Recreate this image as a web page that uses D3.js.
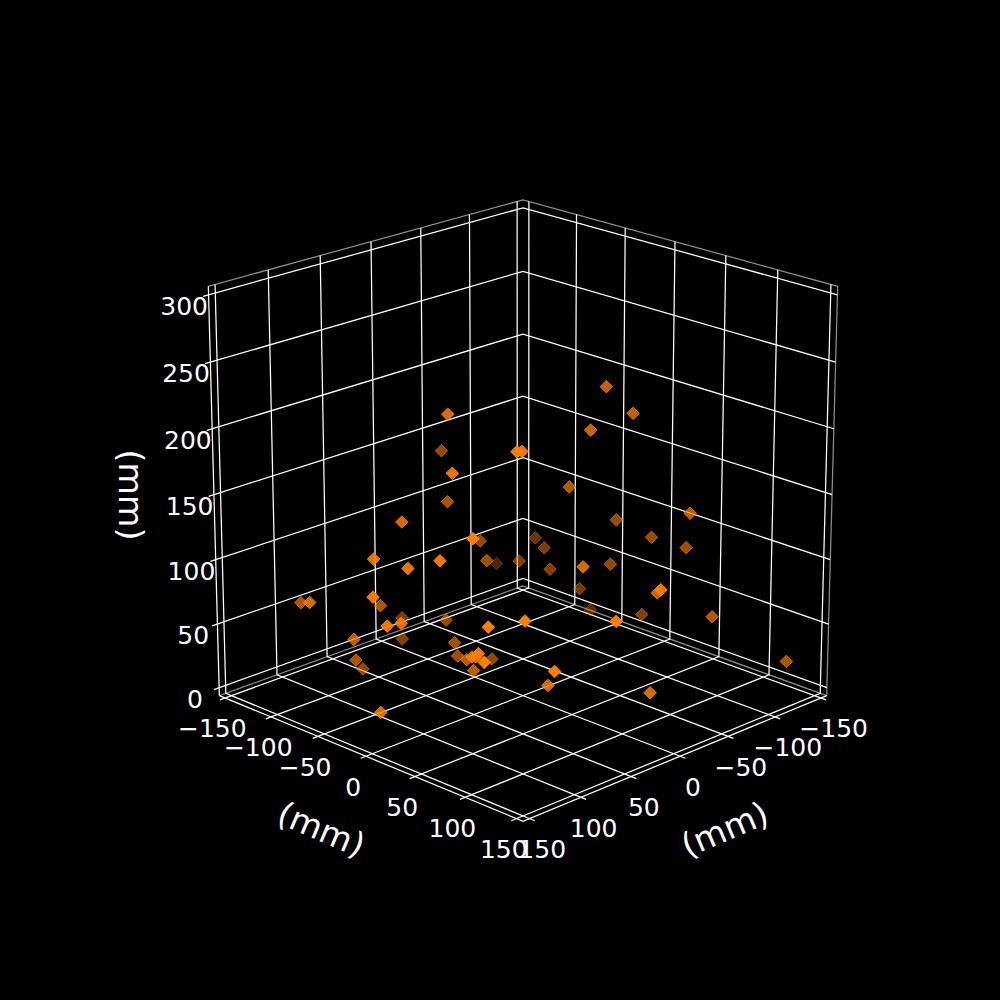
<!DOCTYPE html>
<html>
<head>
<meta charset="utf-8">
<script src="https://d3js.org/d3.v7.min.js"></script>
<style>html,body{margin:0;background:#000}</style>
</head>
<body>
<svg id="chart" width="1000" height="1000"></svg>
<script>
const xyTicks = [-150, -100, -50, 0, 50, 100, 150]
const zTicks = [0, 50, 100, 150, 200, 250, 300]
const axisLabel = '(mm)'

// point positions in mm
const xs = [52,-3,72,22,89,125,110,100,92,-7,5,-71,-35,48,41,-54,-63,-34,-33,-76,-82,
    -91,-99,-72,-58,-50,6,-70,-74,-100,-4,-39,-89,-83,-118,23,80,99,74,44,-6,119,
    150,139,79,24,118,137,39,25,110,101,76,36,37,56,77,87,97,107,8,55,132]
const ys = [-23,-87,2,-55,-32,-23,-4,18,43,-51,-32,-99,-39,42,40,30,48,34,14,20,87,
    41,68,-59,-36,-22,66,20,-15,-29,132,96,34,109,150,115,82,65,105,69,121,-107,
    -63,-9,-66,-102,-3,3,-86,-54,-61,-69,-89,-34,-30,-1,26,40,53,69,-24,5,-10]
const zs = [218,161,185,136,144,128,122,131,152,99,92,51,79,205,203,226,208,199,151,116,137,
    104,101,82,84,73,114,83,53,25,112,90,42,63,30,91,98,94,65,35,30,70,
    91,107,68,33,83,88,25,45,52,31,11,36,27,38,54,61,70,71,18,31,17]

const elev = 20 * Math.PI / 180, se = Math.sin(elev), ce = Math.cos(elev), r = Math.SQRT1_2
const dist = 20, cx = 523, cy = 494.6, sx = 209.8, sy = 209

const sXY = d3.scaleLinear().domain([-150, 150]).range([-1, 1])
const sZ = d3.scaleLinear().domain([0, 300]).range([-1, 1])

// view from azim 45, returns screen x, screen y and depth
function project(x, y, z) {
    const X = sXY(x), Y = sXY(y), Z = sZ(z)
    const S = (X + Y) * r, U = (Y - X) * r
    const D = ce * S + se * Z, V = -se * S + ce * Z
    const f = 1 - D / dist
    return [cx + sx * U / f, cy - sy * V / f, D]
}

const svg = d3.select('#chart')
const lo = -156.25, hi = 156.25, zlo = -6.25, zhi = 306.25, ext = 161.25
const line = pts => 'M' + pts.map(p => project(...p).slice(0, 2).join(',')).join('L')
const path = (pts, col) => svg.append('path').attr('d', line(pts))
    .attr('fill', 'none').attr('stroke', col).attr('stroke-width', 1.25)

path([[hi,lo,zhi],[lo,lo,zhi],[lo,hi,zhi],[lo,hi,zlo],[lo,lo,zlo],[hi,lo,zlo]], '#8c8c8c')
path([[hi,lo,zlo],[hi,lo,zhi]], '#fff')
path([[hi,lo,zlo],[hi,hi,zlo],[lo,hi,zlo]], '#fff')
xyTicks.forEach(t => {
    path([[t,ext,zlo],[t,lo,zlo],[t,lo,zhi]], '#fff')
    path([[ext,t,zlo],[lo,t,zlo],[lo,t,zhi]], '#fff')
})
zTicks.forEach(t => path([[ext,lo,t],[lo,lo,t],[lo,hi,t]], '#fff'))

// points, back to front, faded with depth
const pts = xs.map((x, i) => project(x, ys[i], zs[i]))
const ds = pts.map(p => p[2])
const alpha = d3.scaleLinear().domain(d3.extent(ds)).range([.3, 1])
d3.range(pts.length).sort((a, b) => ds[a] - ds[b]).forEach(i => {
    svg.append('path').attr('d', 'M0,-6.3L6.3,0L0,6.3L-6.3,0Z')
        .attr('transform', `translate(${pts[i][0]},${pts[i][1]})`)
        .attr('fill', '#ff7f00').attr('stroke', '#ff7f00').attr('stroke-width', 1)
        .attr('fill-opacity', alpha(ds[i])).attr('stroke-opacity', alpha(ds[i]))
})

function label(px, py, txt, size, rot) {
    svg.append('text').attr('transform', `translate(${px},${py}) rotate(${rot})`)
        .attr('text-anchor', 'middle').attr('dy', '.36em')
        .attr('font-family', 'DejaVu Sans').attr('font-size', size).attr('fill', '#fff')
        .text(txt)
}
const fmt = t => String(t).replace('-', '\u2212')
xyTicks.forEach(t => {
    const a = project(ext, t, zlo), b = project(t, ext, zlo)
    label(a[0] - 7.5, a[1] + 28.5, fmt(t), 25, 0)
    label(b[0] + 7.5, b[1] + 28.5, fmt(t), 25, 0)
})
zTicks.forEach(t => {
    const a = project(ext, lo, t)
    label(a[0] - 19, a[1] + 9.5, fmt(t), 25, 0)
})
label(321.5, 829, axisLabel, 33.3, 23)
label(724.5, 829, axisLabel, 33.3, -23)
label(131, 495, axisLabel, 33.3, 90)
</script>
</body>
</html>
